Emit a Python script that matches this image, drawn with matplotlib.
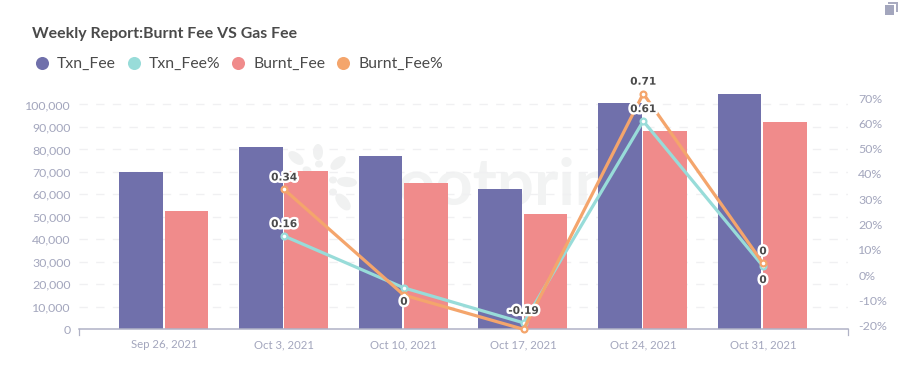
import numpy as np
import matplotlib
matplotlib.use("Agg")
import matplotlib.pyplot as plt
import matplotlib.patheffects as pe
from matplotlib.lines import Line2D
from matplotlib.patches import Ellipse, Rectangle

plt.rcParams['font.family'] = ['Lato', 'DejaVu Sans']

dates = ["Sep 26, 2021", "Oct 3, 2021", "Oct 10, 2021", "Oct 17, 2021", "Oct 24, 2021", "Oct 31, 2021"]
txn_fee = [70000, 81100, 77100, 62400, 100700, 104700]
burnt_fee = [52600, 70400, 65100, 51300, 88200, 92200]
txn_pct = [np.nan, 0.16, -0.04, -0.175, 0.604, 0.044]
burnt_pct = [np.nan, 0.34, -0.068, -0.2, 0.71, 0.055]
txn_labels = [None, "0.16", "0", "-0.19", "0.61", "0"]
burnt_labels = [None, "0.34", None, None, "0.71", "0"]
left_ticks = list(range(0, 100001, 10000))
right_labels = ["-20%", "-10%", "0%", "10%", "20%", "30%", "40%", "50%", "60%", "70%"]

PURPLE = "#7070ab"
TEAL = "#98dcd9"
RED = "#f08b8b"
ORANGE = "#f4a56c"
TICK = "#a3a6bd"
DARK = "#4a4a4a"

W, H = 912, 381
fig = plt.figure(figsize=(W / 100, H / 100), dpi=100)
ax = fig.add_axes([79.5 / W, (H - 329.3) / H, (848.3 - 79.5) / W, (329.3 - 90) / H])
ax.set_xlim(-0.71, 5.713)
ax.set_ylim(0, 106450)
ax.patch.set_alpha(0)

# watermark behind everything
fig.text(362 / W, 1 - 187 / H, "Footprint", fontsize=47, fontweight="bold", color="#f2f3f3",
         va="center", ha="left", zorder=-5)
wm = fig.add_axes([285 / W, (H - 220) / H, 80 / W, 80 / H], zorder=-6)
wm.set_xlim(285, 365)
wm.set_ylim(220, 140)
wm.axis("off")
for cx, cy, w, h, a in [(318, 152, 10, 16, 0), (319, 164, 8, 7, 0), (338, 163, 18, 10, -40),
                        (296, 158, 18, 10, 40), (307, 170, 9, 7, 20), (333, 180, 8, 7, 0),
                        (347, 182, 20, 10, 5), (333, 192, 8, 7, 0), (343, 202, 20, 11, 50),
                        (300, 190, 18, 10, -20), (318, 206, 10, 16, 10)]:
    wm.add_patch(Ellipse((cx, cy), w, h, angle=a, color="#f0f1f1", lw=0))

x = np.arange(len(dates))
ax.bar(x - 0.196, txn_fee, 0.365, color=PURPLE, zorder=2)
ax.bar(x + 0.184, burnt_fee, 0.365, color=RED, zorder=2)

ax.set_yticks(left_ticks)
ax.set_yticklabels([f"{v:,}" for v in left_ticks])
ax.yaxis.grid(True, color="#f0f0f2", lw=1, ls=(0, (6, 6)), zorder=0)
ax.set_axisbelow(True)
ax.set_xticks(x)
ax.set_xticklabels(dates)
ax.tick_params(axis="x", length=0, pad=7, labelsize=8.2, labelcolor=TICK)
ax.tick_params(axis="y", length=0, pad=6.3, labelsize=8.95, labelcolor=TICK)
for s in ["top", "left", "right"]:
    ax.spines[s].set_visible(False)
ax.spines["bottom"].set_color("#b0b2c6")
ax.spines["bottom"].set_linewidth(1.1)
for px in (79.5, 848.3):
    fig.add_artist(Line2D([px / W, px / W], [(H - 329.3) / H, (H - 335) / H], color="#b0b2c6", lw=0.9))

ax2 = ax.twinx()
ax2.set_ylim(-0.2, -0.2 + 239.3 / 259)
ax2.set_yticks(np.linspace(-0.187, 0.693, len(right_labels)))
ax2.set_yticklabels(right_labels)
ax2.tick_params(axis="y", length=0, pad=7.2, labelsize=8.95, labelcolor=TICK)
for s in ax2.spines.values():
    s.set_visible(False)

marks = dict(marker="o", ms=4.2, mfc="white", mew=1.6, lw=2.3, clip_on=False)
ax2.plot(x, txn_pct, color=TEAL, zorder=3, label="Txn_Fee%", **marks)
ax2.plot(x, burnt_pct, color=ORANGE, zorder=4, label="Burnt_Fee%", **marks)

halo = [pe.withStroke(linewidth=3.5, foreground="white")]
for vals, labels, below in [(txn_pct, txn_labels, ("0",)), (burnt_pct, burnt_labels, ())]:
    for i, lab in enumerate(labels):
        if lab is None:
            continue
        off = -10 if lab in below else 8.6
        ax2.annotate(lab, (x[i], vals[i]), xytext=(0, off), textcoords="offset points",
                     ha="center", va="center", fontsize=7.6, fontweight="bold", color=DARK,
                     family="DejaVu Sans", path_effects=halo, zorder=6, annotation_clip=False)

fig.text(32 / W, 1 - 34 / H, "Weekly Report:Burnt Fee VS Gas Fee", fontsize=11.4, fontweight="bold",
         color=DARK, va="center", ha="left")

handles = [Line2D([], [], ls="", marker="o", ms=9.4, mew=0, color=c)
           for c in (PURPLE, TEAL, RED, ORANGE)]
fig.legend(handles, ["Txn_Fee", "Txn_Fee%", "Burnt_Fee", "Burnt_Fee%"], ncol=4, frameon=False,
           loc="center left", bbox_to_anchor=(33 / W, 1 - 64 / H), borderaxespad=0, borderpad=0,
           handlelength=1.1, handletextpad=0.42, columnspacing=0.59, prop={"size": 11.3},
           labelcolor=DARK)

# copy icon top right
for x0, y0, x1, y1, c in [(888, 2, 898, 12, "#a9abc0"), (883.5, 3.7, 895.7, 16, "white"),
                          (885, 5, 894.5, 14.7, "#a3a6bd")]:
    fig.add_artist(Rectangle((x0 / W, 1 - y1 / H), (x1 - x0) / W, (y1 - y0) / H, color=c, lw=0,
                             transform=fig.transFigure))

fig.savefig("out.png", dpi=100)
